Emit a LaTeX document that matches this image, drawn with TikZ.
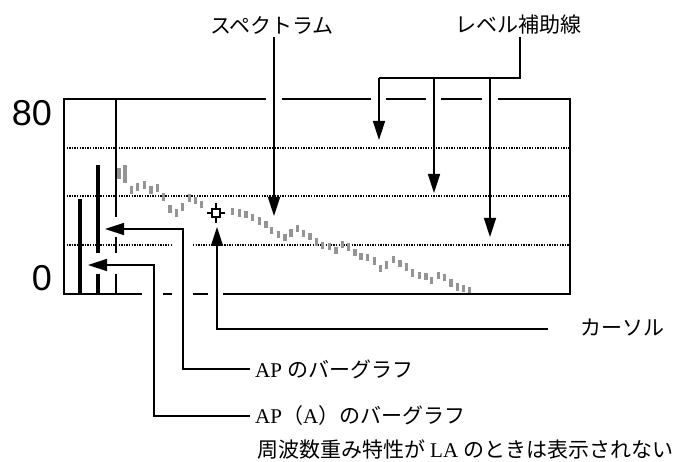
\documentclass[tikz,border=0pt]{standalone}
\usepackage{fontspec}
\setmainfont{Liberation Serif}
\newfontfamily\jpfont{Noto Sans CJK JP}
\newfontfamily\numfont{Liberation Sans}
\usetikzlibrary{arrows.meta}
\begin{document}
\begin{tikzpicture}[x=1pt,y=-1pt,
  frame/.style={line width=2.4pt},
  guide/.style={line width=1.2pt, dash pattern=on 1.4pt off 1.2pt},
  conn/.style={line width=1.5pt},
  arr/.style={conn, -{Triangle[length=19pt,width=12pt]}},
  specbar/.style={fill=black!42},
  levelbar/.style={line width=4.5pt},
  marker/.style={line width=2pt},
  lbl/.style={font=\fontsize{21}{24}\selectfont\jpfont, inner sep=0pt},
  axislbl/.style={font=\fontsize{36}{40}\selectfont\numfont, inner sep=0pt}]
\useasboundingbox (0,0) rectangle (691,462);

% dotted guide lines
\draw[guide] (64,148) -- (570,148);
\draw[guide] (64,196) -- (570,196);
\draw[guide] (64,245) -- (172,245);
\draw[guide] (193,245) -- (570,245);

% spectrum
\foreach \x/\t/\h in {119/168/11,125/165/18,131.7/186/8,137.7/182.7/8,144.3/180.7/8,151/186/8,157.3/184/8,163.3/193.3/7.5,170/205/8,176.3/209.3/7.5,182.7/203.3/7.5,189.3/194.3/8,195.7/196.7/7.5,201.7/200.7/7.5,
232.7/207.7/7.5,239.3/209.3/7.5,246/210.7/7.5,252.7/214/7.5,259.3/217.3/7.5,266/220.7/7.5,271.7/226.7/7.5,278.3/231/7.5,285/234/7.5,291/229.3/7.5,297.7/225/7.5,303.3/230/7.5,310/232.7/7.5,316.7/238.3/7.5,322.7/241.7/7.5,329.3/242.7/7.5,336/246.7/7.5,342.7/241/7.5,348.3/243.3/7.5,355/249/7.5,361/252.7/7.5,367.7/254/7.5,374.3/257.3/7.5,380.7/265/7.5,386.7/261.3/7.5,393.3/256/7.5,400/260/7.5,406.7/263.3/7.5,412.7/269.3/7.5,419.3/271.7/7.5,426/272.7/7.5,431.7/276.7/7.5,438.3/271.7/7.5,444.3/274/7.5,451/279.3/7.5,457.3/283.3/7.5,463.3/285/7.5,469.3/286.7/7.5}
  \fill[specbar] (\x-1.7,\t) rectangle (\x+1.7,\t+\h);

% frame with gaps
\draw[frame] (266,99) -- (64,99) -- (64,294) -- (142,294);
\draw[frame] (282,99) -- (371,99);
\draw[frame] (386,99) -- (426,99);
\draw[frame] (441,99) -- (482,99);
\draw[frame] (498,99) -- (570,99) -- (570,294) -- (223,294);
\draw[frame] (163,294) -- (172,294);
\draw[frame] (193,294) -- (208,294);

% bar graphs and marker line
\draw[levelbar] (80,199) -- (80,294);
\draw[levelbar] (98,165) -- (98,253);
\draw[levelbar] (98,274) -- (98,294);
\draw[marker] (116,99) -- (116,217);
\draw[marker] (116,237) -- (116,253);
\draw[marker] (116,274) -- (116,294);

% axis labels
\node[axislbl, anchor=east] (y80) at (52,113) {80};
\node[axislbl, anchor=east] (y0) at (52,278) {0};

% cursor marker
\coordinate (cur) at (216,213);
\draw[line width=1.2pt] ([xshift=-9pt]cur) -- ([xshift=9pt]cur);
\draw[line width=1.2pt] ([yshift=-10pt]cur) -- ([yshift=10pt]cur);
\draw[line width=1.2pt, fill=white] (212,209) rectangle (220,217);

% labels
\node[lbl] (spec) at (272,25) {スペクトラム};
\node[lbl] (lvl) at (518,25) {レベル補助線};
\node[lbl, anchor=west] (curL) at (580,328) {カーソル};
\node[lbl, anchor=west] (apL) at (255,369) {{\rmfamily AP\ }のバーグラフ};
\node[lbl, anchor=west] (apaL) at (255,416) {{\rmfamily AP}（{\rmfamily A}）のバーグラフ};
\node[lbl, anchor=west] (noteL) at (257,450) {周波数重み特性が{\rmfamily\hspace{5pt}LA\hspace{5pt}}のときは表示されない};

% connector coordinates
\coordinate (specTop) at (274,37);
\coordinate (specTip) at (274,216);
\coordinate (lvlTop) at (520,37);
\coordinate (lvlJ) at (520,78);
\coordinate (lvlA) at (379,78);
\coordinate (lvlB) at (434,78);
\coordinate (lvlC) at (490,78);
\coordinate (lvlTipA) at (379,140);
\coordinate (lvlTipB) at (434,193);
\coordinate (lvlTipC) at (490,237);
\coordinate (curEnd) at (548,329);
\coordinate (curTip) at (217,227);
\coordinate (apEnd) at (250,369);
\coordinate (apTip) at (105,229);
\coordinate (apaEnd) at (250,416);
\coordinate (apaTip) at (88,265);

% connectors
\draw[arr] (specTop) -- (specTip);
\draw[conn] (lvlTop) -- (lvlJ) -- (lvlA);
\draw[arr] (lvlA) -- (lvlTipA);
\draw[arr] (lvlB) -- (lvlTipB);
\draw[arr] (lvlC) -- (lvlTipC);
\draw[arr] (curEnd) -- (curTip |- curEnd) -- (curTip);
\draw[arr] (apEnd) -- (183,369) -- (183,229) -- (apTip);
\draw[arr] (apaEnd) -- (154,416) -- (154,265) -- (apaTip);
\end{tikzpicture}
\end{document}
